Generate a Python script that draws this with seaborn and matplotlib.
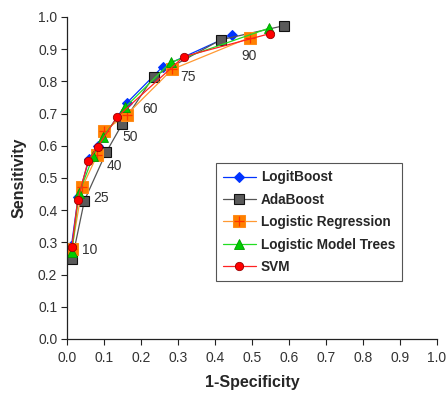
import numpy as np
import matplotlib
matplotlib.use("Agg")
import matplotlib.pyplot as plt
import seaborn as sns
from matplotlib.legend_handler import HandlerTuple

# ROC points (1-specificity, sensitivity) at thresholds 10..90
thresholds = ["10", "25", "40", "50", "60", "75", "90"]

logit_x = [0.012, 0.030, 0.060, 0.083, 0.161, 0.259, 0.446]
logit_y = [0.290, 0.440, 0.560, 0.600, 0.732, 0.846, 0.944]

ada_x = [0.014, 0.047, 0.106, 0.150, 0.234, 0.416, 0.587]
ada_y = [0.248, 0.430, 0.580, 0.669, 0.815, 0.929, 0.973]

lr_x = [0.013, 0.041, 0.082, 0.101, 0.161, 0.284, 0.494]
lr_y = [0.279, 0.471, 0.572, 0.647, 0.696, 0.837, 0.936]

lmt_x = [0.013, 0.032, 0.071, 0.097, 0.157, 0.280, 0.546]
lmt_y = [0.269, 0.452, 0.568, 0.628, 0.719, 0.859, 0.965]

svm_x = [0.013, 0.029, 0.057, 0.083, 0.136, 0.316, 0.548]
svm_y = [0.285, 0.432, 0.553, 0.597, 0.690, 0.877, 0.948]

# where the threshold labels sit
label_x = [0.041, 0.071, 0.107, 0.150, 0.203, 0.307, 0.472]
label_y = [0.277, 0.438, 0.537, 0.627, 0.714, 0.814, 0.879]

sns.set_style("white")
plt.rcParams['font.family'] = ['Liberation Sans', 'DejaVu Sans']

fig = plt.figure(figsize=(4.48, 3.94), dpi=100)
ax = fig.add_axes([0.1496, 0.1396, 0.8254, 0.8174])

lw = 0.9
sns.lineplot(x=logit_x, y=logit_y, sort=False, ax=ax, color='#0033ff', lw=lw,
             marker='D', markersize=5, markerfacecolor='#0033ff',
             markeredgecolor='#0033ff')
sns.lineplot(x=ada_x, y=ada_y, sort=False, ax=ax, color='#555555', lw=lw,
             marker='s', markersize=6.5, markerfacecolor='#5a5a5a',
             markeredgecolor='#111111', markeredgewidth=0.8)
sns.lineplot(x=lr_x, y=lr_y, sort=False, ax=ax, color='#ff9933', lw=lw,
             marker='s', markersize=9, markerfacecolor='#ff8000',
             markeredgecolor='#ff8c1a')
ax.plot(lr_x, lr_y, ls='none', marker='+', markersize=7, color='#ff3300', mew=0.9)
sns.lineplot(x=lmt_x, y=lmt_y, sort=False, ax=ax, color='#22dd22', lw=lw,
             marker='^', markersize=6.5, markerfacecolor='#00cc00',
             markeredgecolor='#009900', markeredgewidth=0.6)
sns.lineplot(x=svm_x, y=svm_y, sort=False, ax=ax, color='#ff2222', lw=lw,
             marker='o', markersize=6, markerfacecolor='#ff0000',
             markeredgecolor='#990000', markeredgewidth=0.6)

lines = ax.get_lines()
h1 = lines[0]
h2 = lines[1]
h3 = (lines[2], lines[3])
h4 = lines[4]
h5 = lines[5]

for t, tx, ty in zip(thresholds, label_x, label_y):
    ax.text(tx, ty, t, fontsize=10, color='#333333', ha='left', va='center')

ticks = np.arange(0, 1.01, 0.1)
ax.set_xlim(0, 1.0)
ax.set_ylim(0, 1.0)
ax.set_xticks(ticks)
ax.set_yticks(ticks)
ax.set_xticklabels([f"{v:.1f}" for v in ticks])
ax.set_yticklabels([f"{v:.1f}" for v in ticks])
ax.tick_params(axis='both', direction='out', length=4, width=0.8, colors='#222222',
               labelsize=10, labelcolor='#333333', bottom=True, left=True, pad=3)
ax.tick_params(axis='x', pad=5)
sns.despine(ax=ax)
for s in ['left', 'bottom']:
    ax.spines[s].set_color('#222222')
    ax.spines[s].set_linewidth(0.9)

ax.set_xlabel('1-Specificity', fontsize=11.5, fontweight='bold', labelpad=7)
ax.set_ylabel('Sensitivity', fontsize=11.5, fontweight='bold', labelpad=8)

leg = ax.legend([h1, h2, h3, h4, h5],
                ['LogitBoost', 'AdaBoost', 'Logistic Regression',
                 'Logistic Model Trees', 'SVM'],
                handler_map={tuple: HandlerTuple(ndivide=1)},
                loc='upper left', bbox_to_anchor=(0.403, 0.545),
                frameon=True, fancybox=False, framealpha=1,
                edgecolor='#555555', prop={'weight': 'bold', 'size': 9.8},
                handlelength=2.4, handletextpad=0.4, labelspacing=0.62,
                borderpad=0.5, borderaxespad=0)
leg.get_frame().set_linewidth(0.8)

fig.savefig('out.png', dpi=100)
